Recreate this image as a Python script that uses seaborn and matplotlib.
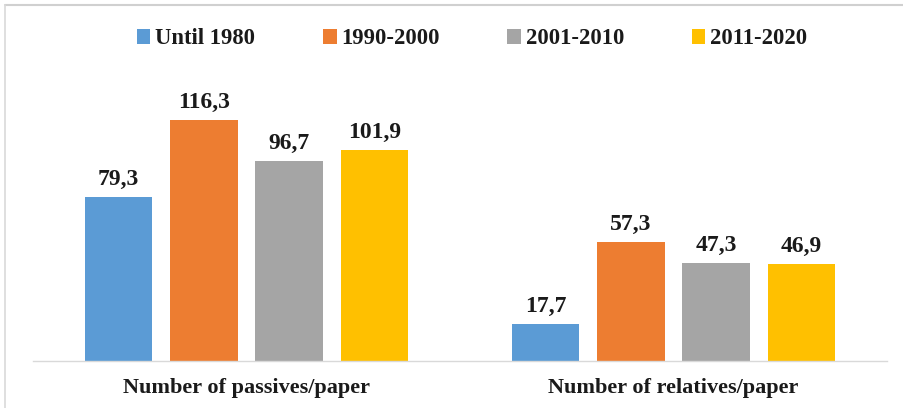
import matplotlib
matplotlib.use("Agg")
import matplotlib.pyplot as plt
from matplotlib.lines import Line2D
import seaborn as sns
import pandas as pd

categories = ["Number of passives/paper", "Number of relatives/paper"]
periods = ["Until 1980", "1990-2000", "2001-2010", "2011-2020"]
values = {
    "Until 1980": [79.3, 17.7],
    "1990-2000": [116.3, 57.3],
    "2001-2010": [96.7, 47.3],
    "2011-2020": [101.9, 46.9],
}
colors = ["#5B9BD5", "#ED7D31", "#A5A5A5", "#FFC000"]

rows = [
    {"category": c, "period": p, "value": v}
    for p in periods
    for c, v in zip(categories, values[p])
]
df = pd.DataFrame(rows)

sns.set_theme(style="white")
plt.rcParams["font.family"] = ["Liberation Serif", "DejaVu Serif"]
plt.rcParams["font.weight"] = "bold"

W, H = 904, 408
fig = plt.figure(figsize=(W / 100, H / 100), dpi=100)
ax = fig.add_axes([33 / W, 47 / H, (887 - 33) / W, (361 - 71) / H])

sns.barplot(
    data=df, x="category", y="value", hue="period",
    order=categories, hue_order=periods, palette=colors,
    width=0.8, gap=0.21, saturation=1, ax=ax, legend=False,
    linewidth=0,
)

for cont in ax.containers:
    ax.bar_label(
        cont, labels=[f"{v:.1f}".replace(".", ",") for v in cont.datavalues],
        padding=5, fontsize=17, fontweight="bold", color="#1a1a1a",
    )

ax.set_xlim(-0.5, 1.5)
ax.set_ylim(0, 140)
ax.set_xlabel("")
ax.set_ylabel("")
ax.set_yticks([])
ax.tick_params(axis="x", length=0, pad=12, labelsize=16, labelcolor="#1a1a1a")
for lab in ax.get_xticklabels():
    lab.set_fontweight("bold")
for side in ["top", "right", "left"]:
    ax.spines[side].set_visible(False)
ax.spines["bottom"].set_color("#d9d9d9")
ax.spines["bottom"].set_linewidth(1.0)

handles = [
    plt.Rectangle((0, 0), 1, 1, facecolor=c, edgecolor="none") for c in colors
]
fig.legend(
    handles, periods, loc="center", bbox_to_anchor=(472 / W, 1 - 39 / H),
    ncol=4, frameon=False, handlelength=0.6, handleheight=0.6,
    handletextpad=0.2, columnspacing=3.0, labelcolor="#1a1a1a",
    prop={"weight": "bold", "size": 16.3},
)

# thin frame lines along the top and left edges
fig.add_artist(Line2D([5 / W, 1], [1 - 4.5 / H, 1 - 4.5 / H],
                      transform=fig.transFigure, color="#d0d0d0", lw=1.5))
fig.add_artist(Line2D([5.5 / W, 5.5 / W], [0, 1 - 4.5 / H],
                      transform=fig.transFigure, color="#d9d9d9", lw=1.2))

fig.savefig("out.png", dpi=100)
